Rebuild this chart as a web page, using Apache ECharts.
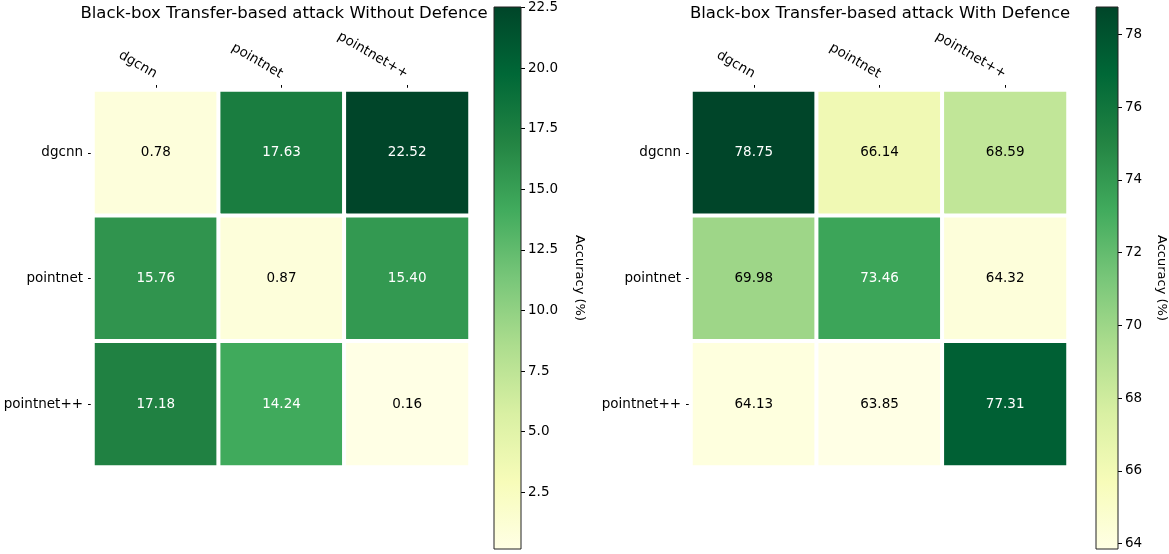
<!DOCTYPE html>
<html>
<head>
<meta charset="utf-8">
<script src="https://cdn.jsdelivr.net/npm/echarts@6/dist/echarts.min.js"></script>
<style>html,body{margin:0;padding:0;background:#fff;}#chart{width:1169px;height:554px;}</style>
</head>
<body>
<div id="chart"></div>
<script>
const categories = ['dgcnn', 'pointnet', 'pointnet++'];
// rows = y categories (top to bottom), columns = x categories
const withoutDefence = [
  [0.78, 17.63, 22.52],
  [15.76, 0.87, 15.40],
  [17.18, 14.24, 0.16]
];
const withDefence = [
  [78.75, 66.14, 68.59],
  [69.98, 73.46, 64.32],
  [64.13, 63.85, 77.31]
];
const ticksLeft = [2.5, 5.0, 7.5, 10.0, 12.5, 15.0, 17.5, 20.0, 22.5];
const ticksRight = [64, 66, 68, 70, 72, 74, 76, 78];
const titles = ['Black-box Transfer-based attack Without Defence', 'Black-box Transfer-based attack With Defence'];
const cbarLabel = 'Accuracy (%)';
const YlGn = ['#ffffe5', '#f7fcb9', '#d9f0a3', '#addd8e', '#78c679', '#41ab5d', '#238443', '#006837', '#004529'];

const FONT = 'DejaVu Sans';
const FS = 13.5;

function flat(m) { return [].concat(...m); }
function heatData(m) {
  const vals = flat(m);
  const mn = Math.min(...vals), mx = Math.max(...vals);
  const thr = (mn + mx) / 2;
  const out = [];
  m.forEach((row, yi) => row.forEach((v, xi) => {
    out.push({ value: [xi, yi, v], label: { color: v > thr ? '#ffffff' : '#000000' } });
  }));
  return { data: out, min: mn, max: mx };
}
const L = heatData(withoutDefence);
const R = heatData(withDefence);

const stops = YlGn.map((c, i) => ({ offset: i / (YlGn.length - 1), color: c }));
function cbarRender(params, api) {
  const p0 = api.coord([api.value(0), api.value(1)]);
  const p1 = api.coord([api.value(0), api.value(2)]);
  const bw = api.size([1, 0])[0];
  return {
    type: 'rect',
    shape: { x: p0[0] - bw / 2, y: p1[1], width: bw, height: p0[1] - p1[1] },
    style: { fill: { type: 'linear', x: 0, y: 1, x2: 0, y2: 0, colorStops: stops }, stroke: '#222', lineWidth: 1 }
  };
}

const catX = (gi) => ({
  type: 'category', gridIndex: gi, data: categories, position: 'top',
  axisLine: { show: false },
  axisTick: { show: true, alignWithLabel: true, length: 5, lineStyle: { color: '#000' } },
  axisLabel: { rotate: 30, margin: 15, fontSize: FS, color: '#000', fontFamily: FONT },
  splitLine: { show: false }
});
const catY = (gi) => ({
  type: 'category', gridIndex: gi, data: categories, inverse: true,
  axisLine: { show: false },
  axisTick: { show: true, alignWithLabel: true, length: 5, lineStyle: { color: '#000' } },
  axisLabel: { margin: 10, fontSize: FS, color: '#000', fontFamily: FONT },
  splitLine: { show: false }
});
const cbX = (gi) => ({ type: 'category', gridIndex: gi, data: [''], show: false });
const cbY = (gi, mn, mx, ticks, fmt, gap) => ({
  type: 'value', gridIndex: gi, min: mn, max: mx, position: 'right',
  axisLine: { show: false },
  splitLine: { show: false },
  axisTick: { show: true, length: 4, customValues: ticks, lineStyle: { color: '#000' } },
  axisLabel: { customValues: ticks, formatter: fmt, margin: 7, fontSize: FS, color: '#000', fontFamily: FONT },
  name: cbarLabel, nameLocation: 'middle', nameRotate: -90, nameGap: gap,
  nameTextStyle: { fontSize: 13, color: '#000', fontFamily: FONT }
});

const cellLabel = { show: true, fontSize: FS, fontFamily: FONT, formatter: (p) => p.value[2].toFixed(2) };

const option = {
  animation: false,
  backgroundColor: '#ffffff',
  textStyle: { fontFamily: FONT },
  title: [
    { text: titles[0], left: 284, top: 5, textAlign: 'center', padding: 0, textStyle: { fontSize: 16.5, fontWeight: 'normal', color: '#000', fontFamily: FONT } },
    { text: titles[1], left: 880, top: 5, textAlign: 'center', padding: 0, textStyle: { fontSize: 16.5, fontWeight: 'normal', color: '#000', fontFamily: FONT } }
  ],
  grid: [
    { left: 93, top: 90, width: 377, height: 377 },
    { left: 494, top: 7, width: 27, height: 542 },
    { left: 691, top: 90, width: 377, height: 377 },
    { left: 1096, top: 7, width: 27, height: 542 }
  ],
  xAxis: [catX(0), cbX(1), catX(2), cbX(3)],
  yAxis: [
    catY(0),
    cbY(1, L.min, L.max, ticksLeft, (v) => v.toFixed(1), 52),
    catY(2),
    cbY(3, R.min, R.max, ticksRight, (v) => String(Math.round(v)), 37)
  ],
  visualMap: [
    { type: 'continuous', show: false, seriesIndex: 0, min: L.min, max: L.max, inRange: { color: YlGn } },
    { type: 'continuous', show: false, seriesIndex: 2, min: R.min, max: R.max, inRange: { color: YlGn } }
  ],
  series: [
    { type: 'heatmap', xAxisIndex: 0, yAxisIndex: 0, data: L.data, label: cellLabel, itemStyle: { borderColor: '#fff', borderWidth: 4 } },
    { type: 'custom', xAxisIndex: 1, yAxisIndex: 1, data: [[0, L.min, L.max]], encode: { x: 0, y: [1, 2] }, renderItem: cbarRender, silent: true },
    { type: 'heatmap', xAxisIndex: 2, yAxisIndex: 2, data: R.data, label: cellLabel, itemStyle: { borderColor: '#fff', borderWidth: 4 } },
    { type: 'custom', xAxisIndex: 3, yAxisIndex: 3, data: [[0, R.min, R.max]], encode: { x: 0, y: [1, 2] }, renderItem: cbarRender, silent: true }
  ]
};
const chart = echarts.init(document.getElementById('chart'), null, { renderer: 'canvas' });
chart.setOption(option);
</script>
</body>
</html>
